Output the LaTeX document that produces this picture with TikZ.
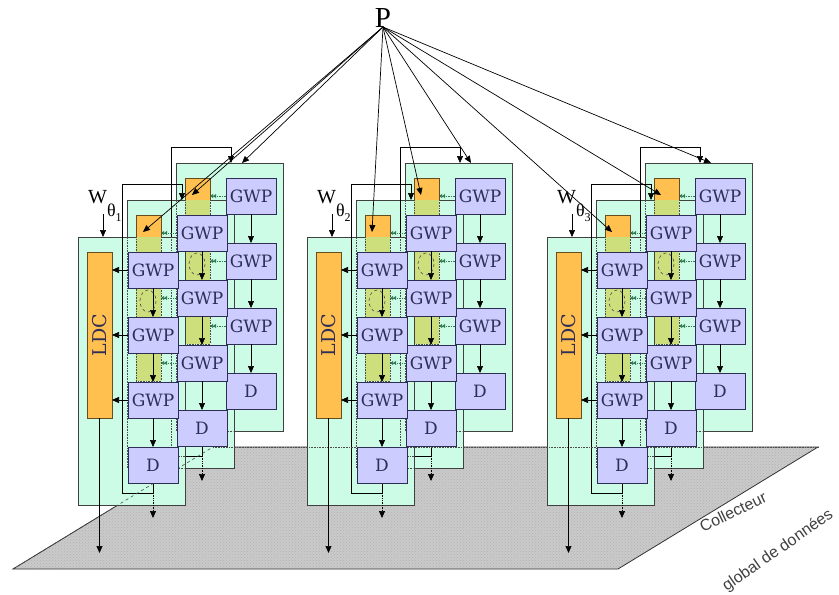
\documentclass[tikz,border=0pt]{standalone}
\usepackage{fontspec}
\usepackage{graphicx}
\setmainfont{Liberation Serif}
\newfontfamily\boxfont{DejaVu Serif}
\newfontfamily\collfont{Liberation Sans}
\usetikzlibrary{arrows.meta,patterns}

\definecolor{sheetcol}{RGB}{204,252,230}
\definecolor{ldccol}{RGB}{255,192,80}
\definecolor{boxcol}{RGB}{204,204,255}
\definecolor{boxline}{RGB}{45,45,85}
\definecolor{seencol}{RGB}{205,222,125}
\definecolor{hidcol}{RGB}{50,120,80}
\definecolor{planecol}{RGB}{202,202,202}

% one sheet of a group: green plate, its LDC and the points its wires use
\newcommand{\sheet}[3]{%
  \node[sheet] (#1s) at (#2,#3) {};
  \node[ldc] (#1l) at (#2+9,#3+15) {\rotatebox{90}{LDC}};
  \coordinate (#1i) at (#2+55,#3);
  \coordinate (#1r) at (#2+55,#3-16);
  \coordinate (#1q) at (#2+66,#3);
  \coordinate (#1t) at (#2+16,#3+32);
  \coordinate (#1o) at (#2+75,#3+246);
  \coordinate (#1k) at (#2+44,#3+256);
  \coordinate (#1e) at (#2+75,#3+281);
  \coordinate (#1z) at (#2+22,#3+316);
}
% what of sheet #1 shows through sheet #2
\newcommand{\seenthrough}[2]{%
  \begin{scope}
    \clip ([shift={(0.6,0.6)}]#2s.north west) rectangle ([shift={(-0.6,-0.6)}]#2s.south east);
    \draw[unseen,fill=seencol] (#1l.north west) rectangle (#1l.south east);
    \draw[unseen] (#1s.north west) rectangle (#1s.south east);
  \end{scope}}
% GWP column of a sheet, #4 = style of the arrows into the LDC
\newcommand{\gwpcol}[4]{%
  \node[gwp] (#1g1) at (#2+50,#3+15) {GWP};
  \node[gwp] (#1g2) at (#2+50,#3+80) {GWP};
  \node[gwp] (#1g3) at (#2+50,#3+145) {GWP};
  \node[gwp] (#1d) at (#2+50,#3+210) {D};
  \foreach \up/\dn in {g1/g2,g2/g3,g3/d} \draw[wire] (#1\up) -- (#1\dn);
  \foreach \up in {g1,g2,g3} \draw[#4] (#1\up.west) -- (#1\up.west -| #1l.east);
}

\begin{document}
\begin{tikzpicture}[x=1pt, y=-1pt,
  sheet/.style={draw=black!75, line width=0.8pt, fill=sheetcol, anchor=north west,
    minimum width=107pt, minimum height=268pt, inner sep=0pt, outer sep=0pt},
  ldc/.style={draw=black!60!ldccol, line width=0.8pt, fill=ldccol, anchor=north west,
    minimum width=25pt, minimum height=166pt, inner sep=0pt, outer sep=0pt,
    text=boxline, font=\boxfont\fontsize{19}{19}\selectfont},
  gwp/.style={draw=boxline, line width=0.8pt, fill=boxcol, anchor=north west,
    minimum width=50pt, minimum height=36pt, inner sep=0pt, outer sep=0pt,
    text=boxline, font=\boxfont\fontsize{17}{17}\selectfont},
  wire/.style={draw=black, line width=0.7pt, -{Triangle[length=7pt,width=6pt]}},
  unseen/.style={draw=black!70, line width=0.6pt, densely dotted},
  seenarr/.style={draw=hidcol, line width=0.7pt, densely dotted,
    -{Latex[length=3pt,width=4.5pt] Latex[length=3pt,width=4.5pt]}},
  outarr/.style={draw=black, line width=0.7pt, densely dotted, -{Triangle[length=7pt,width=6pt]}},
  loopdash/.style={draw=black!70, line width=0.6pt, dashed},
  wlab/.style={anchor=base west, inner sep=0pt, font=\fontsize{20}{20}\selectfont},
  coll/.style={text=black!75, inner sep=1pt, font=\collfont\fontsize{16}{16}\selectfont},
]
\useasboundingbox (0,0) rectangle (839,595);

% data collector plane
\coordinate (pl1) at (13,569);
\coordinate (pl2) at (213,447);
\coordinate (pl3) at (818,447);
\coordinate (pl4) at (618,569);
\fill[planecol] (pl1) -- (pl2) -- (pl3) -- (pl4) -- cycle;
\fill[pattern=crosshatch dots, pattern color=black!30] (pl1) -- (pl2) -- (pl3) -- (pl4) -- cycle;
\draw[black!80, line width=0.8pt] (pl1) -- (pl2) -- (pl3) -- (pl4) -- cycle;
\node[coll, rotate=26] (coll1) at (733,512) {Collecteur};
\node[coll, rotate=35] (coll2) at (778,551) {global de données};

% sheets, back to front
\foreach \gr/\gx/\idx in {a/0/1,b/229/2,c/469/3}{
  \sheet{\gr B}{176+\gx}{163}
  \sheet{\gr M}{127+\gx}{200}
  \seenthrough{\gr B}{\gr M}
  \draw[wire] (\gr Mo) |- (\gr Mk) |- (\gr Br) -- (\gr Bi);
  \sheet{\gr F}{78+\gx}{237}
  \seenthrough{\gr M}{\gr F}
  \seenthrough{\gr B}{\gr F}
  \begin{scope}
    \clip (\gr Fs.north west) rectangle (\gr Fs.south east);
    \draw[unseen] (\gr Mo) |- (\gr Mk) |- (\gr Br);
  \end{scope}
  \draw[wire] (\gr Fo) |- (\gr Fk) |- (\gr Mr) -- (\gr Mi);
  \node[wlab] (\gr w) at (88+\gx,203) {W\raisebox{-13pt}{\fontsize{18}{18}\selectfont θ\raisebox{-5pt}{\fontsize{12}{12}\selectfont\idx}}};
  \coordinate (\gr wi) at (103+\gx,214);
  \draw[wire] (\gr wi) -- (\gr wi |- \gr Fs.north);
}
\draw[unseen] (pl2) -- (pl3);
\draw[unseen, dashed] (pl1) -- (pl2);

% GWP columns and outputs
\foreach \gr/\gx in {a/0,b/229,c/469}{
  \gwpcol{\gr B}{176+\gx}{163}{seenarr}
  \gwpcol{\gr M}{127+\gx}{200}{seenarr}
  \gwpcol{\gr F}{78+\gx}{237}{wire}
  \foreach \s/\sx/\sy in {M/127/200,F/78/237}{
    \draw[loopdash] (\sx+\gx+70,\sy+64) ellipse (8 and 11);
    \draw[outarr] (\gr\s o |- \gr\s k) -- (\gr\s e);
  }
  \draw[wire] (\gr Fl.south) -- (\gr Fl.south |- \gr Fz);
}

% parameters
\node[font=\fontsize{29}{29}\selectfont, anchor=base] (P) at (383,27) {P};
\foreach \gr in {a,b,c}
  \foreach \p in {Mt,Bt,Bq} \draw[wire] (P.base) -- (\gr\p);
\end{tikzpicture}
\end{document}
